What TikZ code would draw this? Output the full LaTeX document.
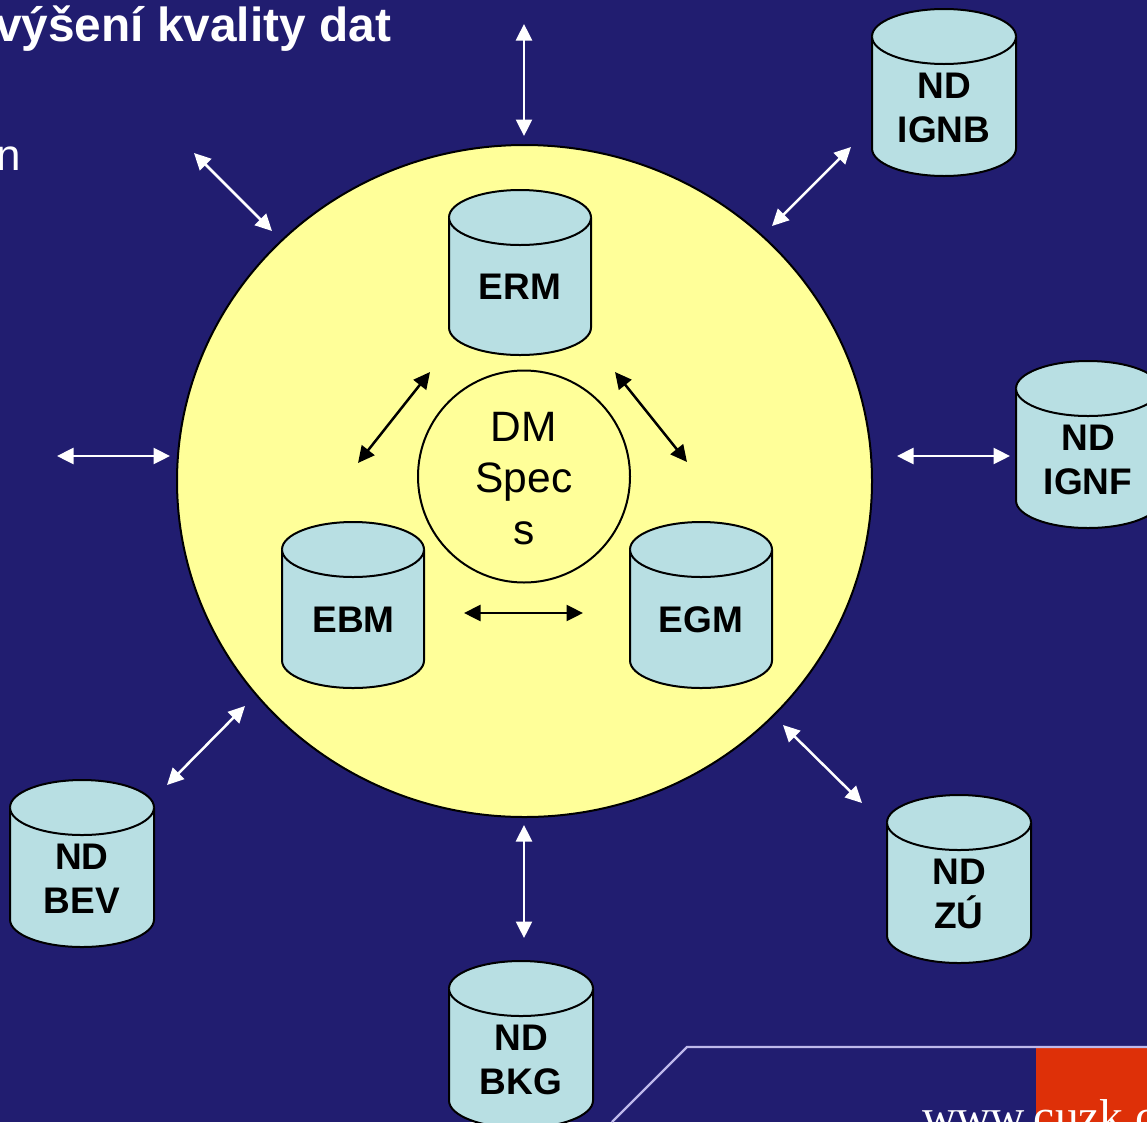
\documentclass[tikz,border=0pt]{standalone}
\usepackage{fontspec}
\setmainfont{Liberation Sans}
\newfontfamily\urlfont{Liberation Serif}
\usetikzlibrary{arrows.meta}
\definecolor{bgblue}{RGB}{33,29,112}
\definecolor{discyellow}{RGB}{255,255,153}
\definecolor{cylblue}{RGB}{184,223,227}
\definecolor{footline}{RGB}{190,185,235}
\definecolor{footred}{RGB}{222,48,8}
\newcommand{\dbcyl}[4]{% left x, top y, height, width
  \pgfmathsetmacro{\cxl}{#1}\pgfmathsetmacro{\cxr}{#1+#4}
  \pgfmathsetmacro{\ctop}{#2+27.5}\pgfmathsetmacro{\cbot}{#2+#3-27.5}
  \pgfmathsetmacro{\crx}{#4/2}
  \draw[cylline] (\cxl,\ctop) -- (\cxl,\cbot) arc[start angle=180,end angle=360,x radius=\crx pt,y radius=27.5pt]
     -- (\cxr,\ctop) arc[start angle=0,end angle=180,x radius=\crx pt,y radius=27.5pt] -- cycle;
  \draw[cylline] (\cxl,\ctop) arc[start angle=180,end angle=360,x radius=\crx pt,y radius=27.5pt];
}
\tikzset{
  x=1pt,y=-1pt,
  cylline/.style={draw=black,fill=cylblue,line width=2pt},
  cyltext/.style={font=\fontsize{37}{44}\selectfont\bfseries,text=black,align=center,inner sep=0pt},
  whitearrow/.style={draw=white,line width=2.5pt,{Triangle[length=16.5pt,width=16pt]}-{Triangle[length=16.5pt,width=16pt]}},
  blackarrow/.style={draw=black,line width=2.5pt,{Triangle[length=16.5pt,width=16pt]}-{Triangle[length=16.5pt,width=16pt]}},
}
\begin{document}
\begin{tikzpicture}
\useasboundingbox (0,0) rectangle (1147,1122);
\clip (0,0) rectangle (1147,1122);
\fill[bgblue] (0,0) rectangle (1147,1122);
% footer
\fill[footred] (1036,1047) rectangle (1147,1122);
\coordinate (fa) at (612,1122);
\coordinate (fb) at (687,1047);
\coordinate (fc) at (1147,1047);
\draw[footline,line width=2.2pt] (fa) -- (fb) -- (fc);
\node[anchor=base west,inner sep=0pt,text=white,font=\fontsize{47.5}{48}\urlfont] (url) at (922,1132) {www.cuzk.c};
% top-left text
\node[anchor=base west,inner sep=0pt,text=white,font=\fontsize{47.8}{48}\selectfont\bfseries] (title) at (-5,41) {výšení kvality dat};
\node[anchor=base east,inner sep=0pt,text=white,font=\fontsize{44}{44}\selectfont] (frag) at (21,170) {n};
% main disc
\draw[black,fill=discyellow,line width=2pt] (524.5,481) ellipse[x radius=347.5pt,y radius=336pt];
\node[circle,draw=black,fill=discyellow,line width=2pt,minimum size=212pt,inner sep=0pt] (speccircle) at (524,476.5) {};
\node[inner sep=0pt,align=center,font=\fontsize{42.5}{51.5}\selectfont] (spec) at (524,478.5) {DM\\Spec\\s};
% inner cylinders
\dbcyl{449}{190}{165}{142}
\node[cyltext] (erm) at (520,287) {ERM};
\dbcyl{282}{522}{166}{142}
\node[cyltext] (ebm) at (353.5,620) {EBM};
\dbcyl{630}{522}{166}{142}
\node[cyltext] (egm) at (701,620) {EGM};
% outer cylinders
\dbcyl{872}{9}{167}{144}
\node[cyltext] (ignb) at (944,108) {ND\\IGNB};
\dbcyl{1016}{361}{167}{144}
\node[cyltext] (ignf) at (1088,460) {ND\\IGNF};
\dbcyl{887}{795}{168}{144}
\node[cyltext] (zu) at (959,894) {ND\\ZÚ};
\dbcyl{449}{961}{167}{144}
\node[cyltext] (bkg) at (521,1060) {ND\\BKG};
\dbcyl{10}{780}{167}{144}
\node[cyltext] (bev) at (82,879) {ND\\BEV};
% arrow ends
\coordinate (a1) at (524,24);   \coordinate (a2) at (524,136);
\coordinate (b1) at (194,153);  \coordinate (b2) at (272,231);
\coordinate (c1) at (851,147);  \coordinate (c2) at (772,226);
\coordinate (d1) at (57,456);   \coordinate (d2) at (170,456);
\coordinate (e1) at (897,456);  \coordinate (e2) at (1010,456);
\coordinate (f1) at (245,706);  \coordinate (f2) at (167,785);
\coordinate (g1) at (783,725);  \coordinate (g2) at (862,803);
\coordinate (h1) at (524,825);  \coordinate (h2) at (524,938);
\coordinate (i1) at (430,372);  \coordinate (i2) at (358,463);
\coordinate (j1) at (615,372);  \coordinate (j2) at (687,462);
\coordinate (k1) at (464,613);  \coordinate (k2) at (583,613);
\foreach \p/\q in {a1/a2,b1/b2,c1/c2,d1/d2,e1/e2,f1/f2,g1/g2,h1/h2}
  \draw[whitearrow] (\p) -- (\q);
\foreach \p/\q in {i1/i2,j1/j2,k1/k2}
  \draw[blackarrow] (\p) -- (\q);
\end{tikzpicture}
\end{document}
